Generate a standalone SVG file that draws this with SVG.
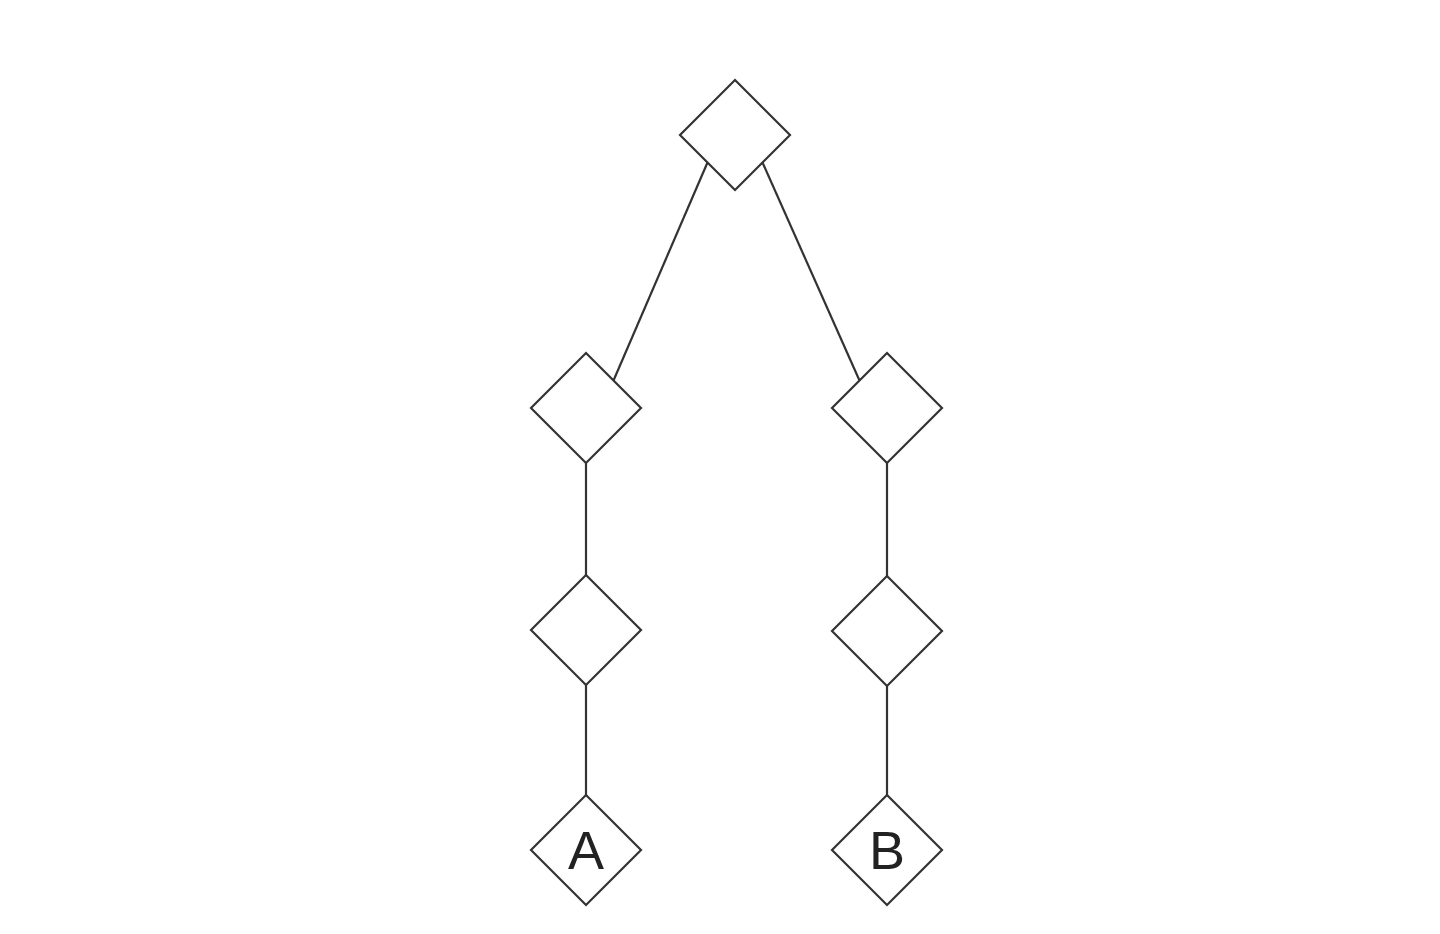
<svg xmlns="http://www.w3.org/2000/svg" width="1440" height="934" viewBox="0 0 1440 934">
<style>
.n{fill:#fff;stroke:#333;stroke-width:2.2}
.e{stroke:#333;stroke-width:2.2;fill:none}
.t{font-family:"Liberation Sans",Arial,sans-serif;font-size:54px;fill:#222;text-anchor:middle}
</style>
<rect width="1440" height="934" fill="#fff"/>
<g id="connectors">
<line class="e" x1="707.5" y1="162.5" x2="613.5" y2="380.5"/>
<line class="e" x1="762.5" y1="162.5" x2="859.5" y2="380.5"/>
<line class="e" x1="586" y1="463" x2="586" y2="575"/>
<line class="e" x1="586" y1="685" x2="586" y2="795"/>
<line class="e" x1="887" y1="463" x2="887" y2="576"/>
<line class="e" x1="887" y1="686" x2="887" y2="795"/>
</g>
<g id="root"><polygon class="n" points="735,80 790,135 735,190 680,135"/></g>
<g id="L1"><polygon class="n" points="586,353 641,408 586,463 531,408"/></g>
<g id="R1"><polygon class="n" points="887,353 942,408 887,463 832,408"/></g>
<g id="L2"><polygon class="n" points="586,575 641,630 586,685 531,630"/></g>
<g id="R2"><polygon class="n" points="887,576 942,631 887,686 832,631"/></g>
<g id="A"><polygon class="n" points="586,795 641,850 586,905 531,850"/><text class="t" x="586" y="869">A</text></g>
<g id="B"><polygon class="n" points="887,795 942,850 887,905 832,850"/><text class="t" x="887" y="869">B</text></g>
</svg>
